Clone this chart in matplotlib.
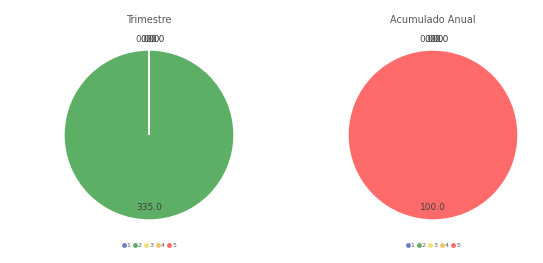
import numpy as np
import matplotlib.pyplot as plt

categories = ["1", "2", "3", "4", "5"]
trimestre = [0.0, 335.0, 0.0, 0.0, 0.0]
acumulado = [0.0, 0.0, 0.0, 0.0, 100.0]
titles = ["Trimestre", "Acumulado Anual"]
colors = ["#6a7fd0", "#5caf64", "#f3e27c", "#f2c56a", "#ff6b6b"]

W, H = 543, 263
fig = plt.figure(figsize=(W / 100, H / 100), dpi=100)
fig.patch.set_facecolor("white")

R = 85
lim = 1.3
centers = [(149, 135), (433, 135)]

for (cx, cy), vals, title in zip(centers, [trimestre, acumulado], titles):
    half = R * lim
    ax = fig.add_axes([(cx - half) / W, (H - cy - half) / H, 2 * half / W, 2 * half / H])
    wedges, texts = ax.pie(vals, colors=colors, startangle=90, counterclock=True,
                           labels=["%.1f" % v for v in vals], labeldistance=0.85,
                           wedgeprops=dict(edgecolor="white", linewidth=1),
                           textprops=dict(fontsize=6.5, color="#404040"))
    # zero slices: put their labels just outside the rim, slightly fanned out
    k = 0
    for v, w, t in zip(vals, wedges, texts):
        t.set_ha("center")
        if v == 0:
            ang = np.deg2rad((w.theta1 + w.theta2) / 2)
            t.set_position((1.12 * np.cos(ang) - 0.08 + 0.06 * k, 1.12 * np.sin(ang)))
            t.set_color("#505050" if k == 0 else "#303030")
            k += 1
    ax.set_xlim(-lim, lim)
    ax.set_ylim(-lim, lim)
    ax.set_aspect("equal")
    ax.axis("off")
    fig.text(cx / W, 1 - 20 / H, title, ha="center", va="center", fontsize=7, color="#595959")
    handles = [plt.Line2D([], [], marker="o", ls="", color=c, markersize=2.5) for c in colors]
    fig.legend(handles, categories, loc="center", bbox_to_anchor=(cx / W, 1 - 245 / H),
               ncol=5, frameon=False, fontsize=4.5, handlelength=0.6, handletextpad=0.2,
               columnspacing=0.4, labelcolor="#595959")

plt.savefig("out.png", dpi=100)
